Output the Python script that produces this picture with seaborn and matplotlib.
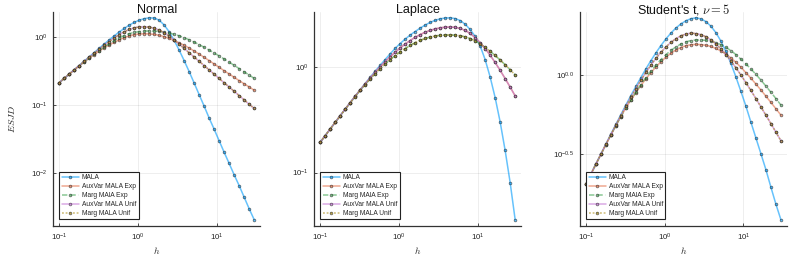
import matplotlib
matplotlib.use("Agg")
import matplotlib.pyplot as plt
import seaborn as sns
import numpy as np
from matplotlib.ticker import FixedLocator, FixedFormatter, NullLocator

# step size h (log-spaced grid)
h = [0.1000, 0.1157, 0.1339, 0.1551, 0.1795, 0.2078, 0.2405, 0.2784, 0.3223, 0.3730,
     0.4318, 0.4998, 0.5785, 0.6696, 0.7751, 0.8971, 1.038, 1.202, 1.391, 1.610,
     1.864, 2.157, 2.497, 2.890, 3.345, 3.872, 4.482, 5.188, 6.004, 6.950,
     8.044, 9.312, 10.78, 12.47, 14.44, 16.71, 19.34, 22.39, 25.92, 30.00]

series_names = ["MALA", "AuxVar MALA Exp", "Marg MAlA Exp", "AuxVar MALA Unif", "Marg MALA Unif"]

# ---- Normal ----
normal_mala = [0.211, 0.244, 0.283, 0.327, 0.379, 0.439, 0.508, 0.587, 0.679, 0.783,
               0.902, 1.033, 1.178, 1.330, 1.486, 1.633, 1.758, 1.854, 1.910, 1.897,
               1.758, 1.496, 1.189, 0.891, 0.638, 0.447, 0.308, 0.209, 0.141, 0.0955,
               0.0638, 0.0437, 0.0295, 0.0200, 0.0137, 0.00933, 0.00646, 0.00437, 0.00295, 0.00204]
normal_auxvar_exp = [0.211, 0.244, 0.282, 0.324, 0.372, 0.426, 0.484, 0.548, 0.617, 0.687,
                     0.759, 0.828, 0.904, 0.973, 1.033, 1.081, 1.104, 1.114, 1.109, 1.089,
                     1.054, 1.007, 0.948, 0.885, 0.818, 0.752, 0.685, 0.619, 0.558, 0.500,
                     0.447, 0.399, 0.356, 0.318, 0.284, 0.254, 0.227, 0.204, 0.183, 0.164]
normal_marg_exp = [0.211, 0.244, 0.282, 0.325, 0.374, 0.429, 0.490, 0.557, 0.630, 0.710,
                   0.794, 0.881, 0.966, 1.045, 1.114, 1.164, 1.199, 1.219, 1.225, 1.219,
                   1.202, 1.175, 1.138, 1.091, 1.038, 0.973, 0.906, 0.838, 0.769, 0.703,
                   0.640, 0.579, 0.524, 0.472, 0.425, 0.381, 0.342, 0.306, 0.274, 0.245]
normal_auxvar_unif = [0.211, 0.245, 0.283, 0.327, 0.377, 0.435, 0.501, 0.575, 0.657, 0.751,
                      0.854, 0.965, 1.078, 1.187, 1.284, 1.360, 1.404, 1.413, 1.393, 1.343,
                      1.259, 1.148, 1.023, 0.899, 0.780, 0.675, 0.583, 0.505, 0.437, 0.378,
                      0.327, 0.282, 0.244, 0.211, 0.183, 0.158, 0.137, 0.118, 0.102, 0.0885]
normal_marg_unif = [0.211, 0.245, 0.283, 0.327, 0.377, 0.435, 0.501, 0.575, 0.657, 0.751,
                    0.854, 0.965, 1.078, 1.187, 1.284, 1.360, 1.404, 1.413, 1.393, 1.343,
                    1.259, 1.148, 1.023, 0.899, 0.780, 0.675, 0.583, 0.505, 0.437, 0.378,
                    0.327, 0.282, 0.244, 0.211, 0.183, 0.158, 0.137, 0.118, 0.102, 0.0885]

# ---- Laplace ----
laplace_mala = [0.193, 0.223, 0.258, 0.298, 0.345, 0.398, 0.459, 0.528, 0.607, 0.697,
                0.798, 0.911, 1.037, 1.177, 1.331, 1.499, 1.667, 1.836, 2.004, 2.167,
                2.333, 2.494, 2.642, 2.766, 2.858, 2.911, 2.924, 2.877, 2.754, 2.541,
                2.265, 1.950, 1.585, 1.175, 0.804, 0.513, 0.302, 0.162, 0.0804, 0.0358]
laplace_auxvar_exp = [0.193, 0.223, 0.258, 0.298, 0.345, 0.398, 0.459, 0.528, 0.606, 0.692,
                      0.787, 0.892, 1.004, 1.124, 1.249, 1.380, 1.512, 1.647, 1.781, 1.908,
                      2.026, 2.132, 2.222, 2.295, 2.348, 2.381, 2.392, 2.374, 2.320, 2.221,
                      2.077, 1.899, 1.700, 1.495, 1.293, 1.103, 0.930, 0.777, 0.645, 0.533]
laplace_marg_exp = [0.193, 0.223, 0.258, 0.298, 0.344, 0.397, 0.457, 0.524, 0.601, 0.682,
                    0.770, 0.866, 0.965, 1.068, 1.174, 1.281, 1.389, 1.495, 1.598, 1.697,
                    1.785, 1.861, 1.922, 1.966, 1.994, 2.008, 2.012, 2.004, 1.977, 1.928,
                    1.858, 1.770, 1.656, 1.535, 1.409, 1.285, 1.164, 1.050, 0.942, 0.841]
laplace_auxvar_unif = [0.193, 0.223, 0.258, 0.298, 0.345, 0.398, 0.459, 0.528, 0.606, 0.692,
                       0.787, 0.892, 1.004, 1.124, 1.249, 1.380, 1.512, 1.647, 1.781, 1.908,
                       2.026, 2.132, 2.222, 2.295, 2.348, 2.381, 2.392, 2.374, 2.320, 2.221,
                       2.077, 1.899, 1.700, 1.495, 1.293, 1.103, 0.930, 0.777, 0.645, 0.533]
laplace_marg_unif = [0.193, 0.223, 0.258, 0.298, 0.344, 0.397, 0.457, 0.524, 0.601, 0.682,
                     0.770, 0.866, 0.965, 1.068, 1.174, 1.281, 1.389, 1.495, 1.598, 1.697,
                     1.785, 1.861, 1.922, 1.966, 1.994, 2.008, 2.012, 2.004, 1.977, 1.928,
                     1.858, 1.770, 1.656, 1.535, 1.409, 1.285, 1.164, 1.050, 0.942, 0.841]

# ---- Student's t, nu = 5 ----
student_mala = [0.204, 0.236, 0.274, 0.316, 0.366, 0.423, 0.488, 0.562, 0.647, 0.742,
                0.847, 0.964, 1.094, 1.233, 1.380, 1.535, 1.690, 1.841, 1.982, 2.104,
                2.203, 2.270, 2.301, 2.265, 2.178, 2.037, 1.854, 1.641, 1.413, 1.186,
                0.975, 0.789, 0.637, 0.505, 0.401, 0.319, 0.253, 0.196, 0.153, 0.122]
student_auxvar_exp = [0.204, 0.236, 0.273, 0.315, 0.363, 0.418, 0.479, 0.547, 0.619, 0.694,
                      0.774, 0.859, 0.946, 1.036, 1.125, 1.212, 1.296, 1.372, 1.439, 1.493,
                      1.533, 1.556, 1.562, 1.558, 1.544, 1.516, 1.474, 1.421, 1.357, 1.284,
                      1.204, 1.121, 1.036, 0.956, 0.878, 0.805, 0.736, 0.672, 0.613, 0.559]
student_marg_exp = [0.204, 0.236, 0.273, 0.315, 0.363, 0.418, 0.479, 0.547, 0.619, 0.697,
                    0.781, 0.871, 0.964, 1.060, 1.157, 1.252, 1.344, 1.430, 1.506, 1.571,
                    1.620, 1.653, 1.666, 1.666, 1.658, 1.639, 1.605, 1.558, 1.498, 1.428,
                    1.348, 1.261, 1.177, 1.093, 1.011, 0.930, 0.852, 0.779, 0.711, 0.647]
student_auxvar_unif = [0.204, 0.236, 0.273, 0.316, 0.365, 0.420, 0.483, 0.554, 0.635, 0.724,
                       0.822, 0.927, 1.039, 1.155, 1.274, 1.391, 1.504, 1.608, 1.698, 1.769,
                       1.817, 1.839, 1.830, 1.801, 1.748, 1.670, 1.573, 1.464, 1.348, 1.229,
                       1.113, 1.001, 0.897, 0.799, 0.711, 0.630, 0.558, 0.494, 0.436, 0.385]
student_marg_unif = [0.204, 0.236, 0.273, 0.316, 0.365, 0.420, 0.483, 0.554, 0.635, 0.724,
                     0.822, 0.927, 1.039, 1.155, 1.274, 1.391, 1.504, 1.608, 1.698, 1.769,
                     1.817, 1.839, 1.830, 1.801, 1.748, 1.670, 1.573, 1.464, 1.348, 1.229,
                     1.113, 1.001, 0.897, 0.799, 0.711, 0.630, 0.558, 0.494, 0.436, 0.385]

panels = [
    ("Normal", [normal_mala, normal_auxvar_exp, normal_marg_exp, normal_auxvar_unif, normal_marg_unif],
     [0.01, 0.1, 1.0], [r"$\mathdefault{10^{-2}}$", r"$\mathdefault{10^{-1}}$", r"$\mathdefault{10^{0}}$"]),
    ("Laplace", [laplace_mala, laplace_auxvar_exp, laplace_marg_exp, laplace_auxvar_unif, laplace_marg_unif],
     [0.1, 1.0], [r"$\mathdefault{10^{-1}}$", r"$\mathdefault{10^{0}}$"]),
    (r"Student's t, $\nu = 5$", [student_mala, student_auxvar_exp, student_marg_exp, student_auxvar_unif, student_marg_unif],
     [10 ** -0.5, 1.0], [r"$\mathdefault{10^{-0.5}}$", r"$\mathdefault{10^{0.0}}$"]),
]

xticks = [0.1, 1.0, 10.0]
xticklabels = [r"$\mathdefault{10^{-1}}$", r"$\mathdefault{10^{0}}$", r"$\mathdefault{10^{1}}$"]

colors = ["#009AFA", "#E36F47", "#3EA44E", "#C271D2", "#AC8E18"]
linestyles = ["-", "-", (0, (3.5, 2.0)), "-", (0, (1.2, 1.2))]

sns.set_theme(style="white")
plt.rcParams["font.family"] = ["Liberation Sans", "DejaVu Sans"]
plt.rcParams["mathtext.fontset"] = "cm"

fig = plt.figure(figsize=(7.93, 2.64), dpi=100)
lefts = [0.0672, 0.3963, 0.7314]

for k, (title, ys, yt, ytl) in enumerate(panels):
    ax = fig.add_axes([lefts[k], 0.145, 0.2607, 0.8106])
    for name, vals, c, ls in zip(series_names, ys, colors, linestyles):
        sns.lineplot(x=h, y=vals, ax=ax, color=c, linestyle=ls, linewidth=1.1, alpha=0.6,
                     marker="o", markersize=1.9, markerfacecolor=c, markeredgecolor="#222222",
                     markeredgewidth=0.6, label=name, errorbar=None, sort=False)
    ax.set_xscale("log")
    ax.set_yscale("log")
    lx = np.log10([min(h), max(h)])
    allv = np.concatenate([np.asarray(v) for v in ys])
    ly = np.log10([allv.min(), allv.max()])
    px = 0.03 * (lx[1] - lx[0])
    py = 0.03 * (ly[1] - ly[0])
    ax.set_xlim(10 ** (lx[0] - px), 10 ** (lx[1] + px))
    ax.set_ylim(10 ** (ly[0] - py), 10 ** (ly[1] + py))
    ax.xaxis.set_major_locator(FixedLocator(xticks))
    ax.xaxis.set_major_formatter(FixedFormatter(xticklabels))
    ax.xaxis.set_minor_locator(NullLocator())
    ax.yaxis.set_major_locator(FixedLocator(yt))
    ax.yaxis.set_major_formatter(FixedFormatter(ytl))
    ax.yaxis.set_minor_locator(NullLocator())
    ax.grid(True, which="major", color="black", alpha=0.08, linewidth=0.6)
    for s in ["top", "right"]:
        ax.spines[s].set_visible(False)
    for s in ["left", "bottom"]:
        ax.spines[s].set_color("#333333")
        ax.spines[s].set_linewidth(0.9)
    ax.tick_params(axis="both", which="major", direction="in", length=2.5, width=0.6,
                   color="#333333", labelsize=5.6, pad=4, labelcolor="#222222",
                   left=True, bottom=True)
    ax.set_title(title, fontsize=9, pad=-1.0, color="#111111")
    ax.set_xlabel(r"$h$", fontsize=7, labelpad=2)
    if k == 0:
        ax.set_ylabel(r"$ESJD$", fontsize=7, labelpad=10)
    else:
        ax.set_ylabel("")
    leg = ax.legend(loc="lower left", bbox_to_anchor=(0.03, 0.03), borderaxespad=0,
                    fontsize=4.8, frameon=True, fancybox=False, framealpha=1,
                    edgecolor="#222222", handlelength=2.6, labelspacing=0.3,
                    borderpad=0.35, handletextpad=0.4)
    leg.get_frame().set_linewidth(0.8)

fig.savefig("out.png", dpi=100)
